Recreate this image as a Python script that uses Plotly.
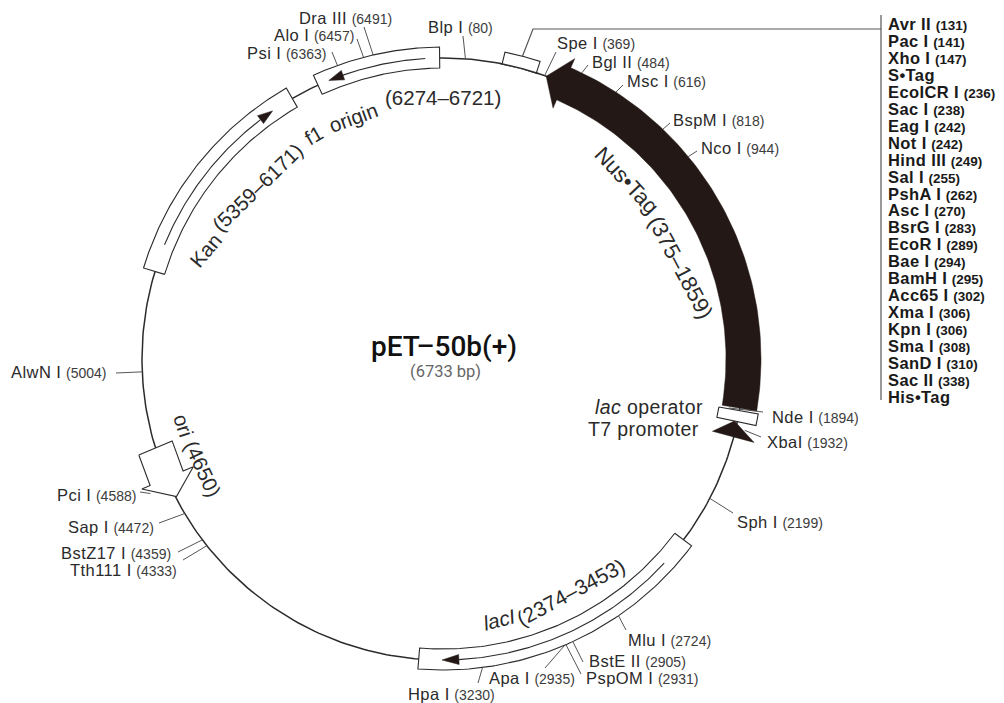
import math
import plotly.graph_objects as go

# ---------- data ----------
PLASMID_BP = 6733
site_names = ["Blp I", "Spe I", "Bgl II", "Msc I", "BspM I", "Nco I", "Nde I", "XbaI", "Sph I",
              "Mlu I", "BstE II", "PspOM I", "Apa I", "Hpa I", "Tth111 I", "BstZ17 I", "Sap I",
              "Pci I", "AlwN I", "Psi I", "Alo I", "Dra III"]
site_bp = [80, 369, 484, 616, 818, 944, 1894, 1932, 2199,
           2724, 2905, 2931, 2935, 3230, 4333, 4359, 4472,
           4588, 5004, 6363, 6457, 6491]
mcs_names = ["Avr II", "Pac I", "Xho I", "S•Tag", "EcoICR I", "Sac I", "Eag I", "Not I", "Hind III",
             "Sal I", "PshA I", "Asc I", "BsrG I", "EcoR I", "Bae I", "BamH I", "Acc65 I", "Xma I",
             "Kpn I", "Sma I", "SanD I", "Sac II", "His•Tag"]
mcs_bp = [131, 141, 147, None, 236, 238, 242, 242, 249, 255, 262, 270, 283, 289, 294, 295, 302,
          306, 306, 308, 310, 338, None]
kan_span = (5366, 6171)
f1_span = (6274, 6721)
laci_span = (2374, 3453)
nus_span = (375, 1859)

# ---------- styling / layout ----------
CX, CY, R = 443, 359, 301
INK = "#231815"
LINE = "#2b2b2b"
LEAD = "#555555"
FONT = "Liberation Sans"

# start radius and leader end (px) for each site
site_r = [301, 301, 318, 318, 318, 318, 290, 310, 301, 311, 311, 311, 311, 311, 301, 301, 301, 322, 301, 312, 312, 312]
lead_end = [(463, 36), (556, 52), (588, 65), (623, 85), (670, 123), (697, 151), (763, 412), (761, 437), (733, 513),
            (626, 630), (583, 662), (581, 674), (545, 668), (478, 683), (183, 560), (178, 552), (159, 523),
            (140, 492), (116, 373), (332, 52), (357, 39), (364, 27)]
# left edge, centre-line y of each label
label_at = [(427, 27), (556, 43), (591, 62), (626, 81), (672, 120), (700, 148), (771, 417), (766, 442), (736, 522),
            (627, 640), (588, 661), (585, 678), (488, 678), (407, 694), (69, 570), (60, 553), (67, 527),
            (56, 495), (10, 372), (246, 53), (273, 35), (298, 18)]


def th(bp):
    return bp / PLASMID_BP * 2 * math.pi


def pol(bp, r):
    return CX + r * math.sin(th(bp)), CY - r * math.cos(th(bp))


def arc(b0, b1, r, n=80):
    return [pol(b0 + (b1 - b0) * i / n, r) for i in range(n + 1)]


fig = go.Figure()


def path(pts, color=LINE, width=1.2, fill=None, close=False):
    xs = [p[0] for p in pts]
    ys = [p[1] for p in pts]
    if close:
        xs.append(xs[0])
        ys.append(ys[0])
    fig.add_trace(go.Scatter(x=xs, y=ys, mode="lines", line=dict(color=color, width=width),
                             fill="toself" if fill else None, fillcolor=fill, hoverinfo="skip",
                             showlegend=False))


def box(b0, b1, r0, r1):
    path(arc(b0, b1, r0) + arc(b1, b0, r1), fill="white", close=True, width=1.1)


def inner_arrow(b_start, b_base, b_tip):
    path(arc(b_start, b_base, R), width=1.1)
    path([pol(b_base, R - 5), pol(b_base, R + 5), pol(b_tip, R)], color=INK, fill=INK, width=0.5, close=True)


# backbone
path(arc(0, PLASMID_BP, R, 400), width=1.5)

# leaders (drawn below the features)
for bp, r, end in zip(site_bp, site_r, lead_end):
    start_bp = 1865 if bp == 1894 else bp
    path([pol(start_bp, r), end], color=LEAD, width=1)

# MCS bracket and its leader to the list
path([pol(212, R)] + arc(212, 338, 313) + [pol(338, R)], width=1.1, fill="white")
path([pol(275, 313), (533, 29), (881, 29)], color=LEAD, width=1.2)
path([(881, 15), (881, 400)], color=LEAD, width=1.2)
path(arc(205, 345, R, 20), width=1.5)

# features
box(*kan_span, 291, 313)
inner_arrow(5467, 6035, 6088)
box(*f1_span, 291, 312)
inner_arrow(6670, 6370, 6316)
box(*laci_span, 290, 311)
inner_arrow(2482, 3310, 3370)

# Nus-Tag black arrow
head_bp = 443
path(arc(nus_span[1], head_bp, 318) + [pol(head_bp, 328), pol(nus_span[0], R), pol(head_bp, 274)]
     + arc(head_bp, nus_span[1], 283), color=INK, fill=INK, width=0.5, close=True)

# lac operator box and T7 promoter triangle
box(1868, 1908, 280, 320)
path([pol(1908, 298), pol(1964, 322), pol(1964, 279)], color=INK, fill=INK, width=0.5, close=True)

# ori arrow
ori_pts = [pol(4722, 319), pol(4735, 283), pol(4614, 283), pol(4613, 272), pol(4539, 300),
           pol(4613, 328), pol(4613, 319)]
path(ori_pts, fill="white", close=True, width=1.1)


# ---------- text ----------
def note(x, y, text, size, color="#2a2a2a", anchor="left", angle=0, family=FONT, weight="normal"):
    fig.add_annotation(x=x, y=y, xref="x", yref="y", text=text, showarrow=False, xanchor=anchor,
                       yanchor="middle", textangle=angle, borderpad=0,
                       font=dict(family=family, size=size, color=color, weight=weight))


for name, bp, (lx, ly) in zip(site_names, site_bp, label_at):
    note(lx, ly, f'<span style="letter-spacing:0.45px">{name}</span> '
                 f'<span style="font-size:14px;fill:#3c3c3c">({bp})</span>', 16.5)

for i, (name, bp) in enumerate(zip(mcs_names, mcs_bp)):
    y = 24 + i * 16.95
    num = "" if bp is None else f' <span style="font-size:13.5px;letter-spacing:0">({bp})</span>'
    note(887, y, f'<b><span style="letter-spacing:0.4px">{name}</span>{num}</b>', 16.5, color="#1a1a1a")

for text, x, y, a, s in [("Kan", 205, 250, -50, 20.5), ("(5359–6171)", 257, 187, -44, 20.5), ("f1", 313, 135, -30, 20.5),
                         ("origin", 353, 117, -20, 20.5), ("(6274–6721)", 443, 97, 0, 20.5),
                         ("Nus•Tag", 627, 180, 47, 22), ("(375–1859)", 681, 267, 62, 22),
                         ("<i>lacI</i>", 499, 619, -14, 20.5), ("(2374–3453)", 570, 592, -28, 21),
                         ("ori", 184, 425, 72, 20.5), ("(4650)", 203, 468, 65, 20.5)]:
    note(x, y, text, s, anchor="center", angle=a)

note(649, 407, '<span style="letter-spacing:0.4px"><i>lac</i> operator</span>', 19.5, anchor="center")
note(643, 429, '<span style="letter-spacing:0.4px">T7 promoter</span>', 19.5, anchor="center")
note(444, 346, "pET–50b(+)", 28, color="#111111", anchor="center", family="Roboto", weight=500)
note(445, 371, "(6733 bp)", 16.5, color="#666666", anchor="center", family="Roboto")

fig.update_layout(width=1004, height=703, margin=dict(l=0, r=0, t=0, b=0), paper_bgcolor="white",
                  plot_bgcolor="white", showlegend=False,
                  xaxis=dict(range=[0, 1004], visible=False, fixedrange=True),
                  yaxis=dict(range=[703, 0], visible=False, fixedrange=True))
fig.write_html("out.html", config=dict(displayModeBar=False),
               post_script="document.body.style.margin='0';document.body.style.overflow='hidden';")
